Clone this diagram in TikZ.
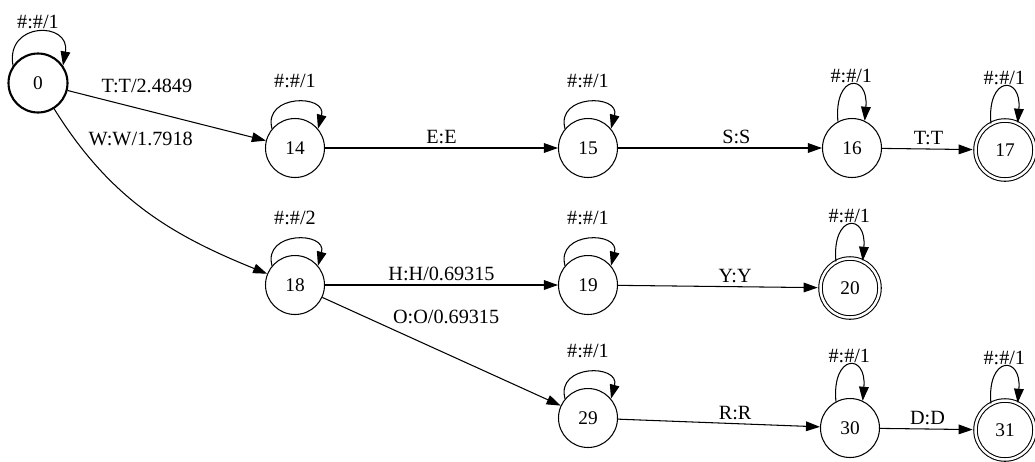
\documentclass[tikz,border=0pt]{standalone}
\usepackage{fontspec}
\setmainfont{Liberation Serif}
\usetikzlibrary{arrows.meta}

\begin{document}
\begin{tikzpicture}[x=0.02cm, y=-0.02cm,
  state/.style={draw, circle, minimum size=1.18cm, inner sep=0pt, line width=0.6pt, font=\fontsize{11}{13}\selectfont},
  final/.style={state, double, double distance=1.4pt},
  trans/.style={-{Triangle[length=8pt, width=5.5pt]}, line width=0.6pt},
  lab/.style={font=\fontsize{11.5}{13}\selectfont, inner sep=2pt},
  looplab/.style={font=\fontsize{11.5}{13}\selectfont, inner sep=0pt}]
  \useasboundingbox (0,0) rectangle (1035,461);

  % states
  \node[state, line width=1.2pt] (s0) at (38,83) {0};
  \node[state] (s14) at (295,148) {14};
  \node[state] (s15) at (588,148) {15};
  \node[state] (s16) at (852,148) {16};
  \node[final] (s17) at (1005,150) {17};
  \node[state] (s18) at (295,285) {18};
  \node[state] (s19) at (588,285) {19};
  \node[final] (s20) at (850,288) {20};
  \node[state] (s29) at (588,418) {29};
  \node[state] (s30) at (850,428) {30};
  \node[final] (s31) at (1005,430) {31};

  % self loops
  \draw[trans] (s0.145) .. controls +(100:0.9cm) and +(80:0.9cm) .. (s0.35) node[looplab, midway, above=0.06cm] {\#:\#/1};
  \draw[trans] (s14.140) .. controls +(105:0.72cm) and +(75:0.72cm) .. (s14.40) node[looplab, midway, above=0.28cm] {\#:\#/1};
  \draw[trans] (s15.140) .. controls +(105:0.72cm) and +(75:0.72cm) .. (s15.40) node[looplab, midway, above=0.28cm] {\#:\#/1};
  \draw[trans] (s18.140) .. controls +(105:0.72cm) and +(75:0.72cm) .. (s18.40) node[looplab, midway, above=0.28cm] {\#:\#/2};
  \draw[trans] (s19.140) .. controls +(105:0.72cm) and +(75:0.72cm) .. (s19.40) node[looplab, midway, above=0.28cm] {\#:\#/1};
  \draw[trans] (s29.140) .. controls +(105:0.72cm) and +(75:0.72cm) .. (s29.40) node[looplab, midway, above=0.28cm] {\#:\#/1};
  \draw[trans] (s16.118) .. controls +(95:0.96cm) and +(85:0.96cm) .. (s16.65) node[looplab, midway, above=0.03cm] {\#:\#/1};
  \draw[trans] (s17.118) .. controls +(95:0.96cm) and +(85:0.96cm) .. (s17.65) node[looplab, midway, above=0.03cm] {\#:\#/1};
  \draw[trans] (s20.118) .. controls +(95:0.96cm) and +(85:0.96cm) .. (s20.65) node[looplab, midway, above=0.03cm] {\#:\#/1};
  \draw[trans] (s30.118) .. controls +(95:0.96cm) and +(85:0.96cm) .. (s30.65) node[looplab, midway, above=0.03cm] {\#:\#/1};
  \draw[trans] (s31.118) .. controls +(95:0.96cm) and +(85:0.96cm) .. (s31.65) node[looplab, midway, above=0.03cm] {\#:\#/1};

  % transitions
  \draw[trans] (s0) -- (s14) node[lab, pos=0.4, above=0.27cm] {T:T/2.4849};
  \draw[trans] (s0) to[out=-58, in=158] node[lab, pos=0.12, right=0.2cm] {W:W/1.7918} (s18);
  \draw[trans] (s14) -- (s15) node[lab, midway, above] {E:E};
  \draw[trans] (s15) -- (s16) node[lab, pos=0.58, above] {S:S};
  \draw[trans, shorten >=1.3pt] (s16) -- (s17) node[lab, midway, above] {T:T};
  \draw[trans] (s18) -- (s19) node[lab, midway, above] {H:H/0.69315};
  \draw[trans] (s18) -- (s29) node[lab, pos=0.28, above right] {O:O/0.69315};
  \draw[trans, shorten >=1.3pt] (s19) -- (s20) node[lab, pos=0.58, above] {Y:Y};
  \draw[trans] (s29) -- (s30) node[lab, pos=0.58, above] {R:R};
  \draw[trans, shorten >=1.3pt] (s30) -- (s31) node[lab, midway, above] {D:D};
\end{tikzpicture}
\end{document}
